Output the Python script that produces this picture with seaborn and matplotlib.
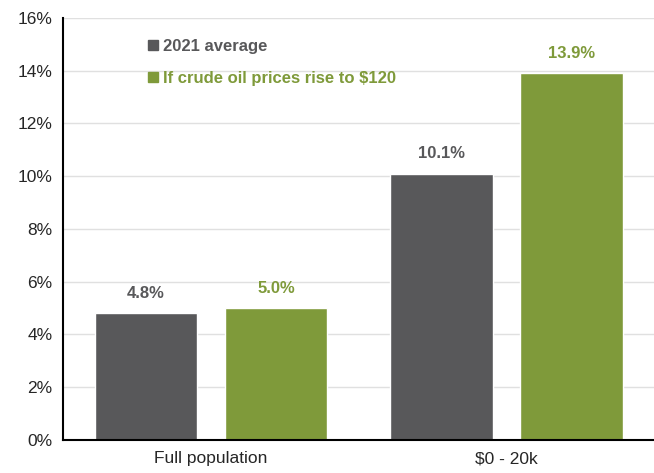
import pandas as pd
import matplotlib.pyplot as plt
import seaborn as sns
from matplotlib.lines import Line2D

categories = ['Full population', '$0 - 20k']
series = ['2021 average', 'If crude oil prices rise to $120']
avg_2021 = [4.8, 10.1]
oil_120 = [5.0, 13.9]
yticks = [0, 2, 4, 6, 8, 10, 12, 14, 16]

# colours
Colors = ['#58585a', '#7f9a3a']

df = pd.DataFrame({
    'group': categories * 2,
    'series': [series[0]] * 2 + [series[1]] * 2,
    'value': avg_2021 + oil_120,
})

sns.set_style('white')
plt.rcParams['font.family'] = ['Liberation Sans', 'DejaVu Sans']

fig = plt.figure(figsize=(6.54, 4.73), dpi=100)
ax = fig.add_axes([0.097, 0.070, 0.903, 0.892])

sns.barplot(data=df, x='group', y='value', hue='series', palette=Colors,
            width=0.88, gap=0.21, ax=ax, legend=False, saturation=1)

# value labels
for cont, col in zip(ax.containers, Colors):
    ax.bar_label(cont, labels=[f'{v:.1f}%' for v in cont.datavalues],
                 padding=9, color=col, fontsize=12, fontweight='bold')

ax.set_ylim(0, 16)
ax.set_yticks(yticks)
ax.set_yticklabels([f'{t}%' for t in yticks], fontsize=12.5)
ax.set_xlim(-0.5, 1.5)
ax.set_xticks([0, 1])
ax.set_xticklabels(categories, fontsize=12.5)
ax.tick_params(axis='x', length=0, pad=8)
ax.tick_params(axis='y', length=0, pad=8)
ax.set_xticks([0.5], minor=True)
ax.tick_params(axis='x', which='minor', length=5, width=1.2, color='black', direction='out')
ax.set_xlabel('')
ax.set_ylabel('')

ax.yaxis.grid(True, color='#e0e0e0', linewidth=1)
ax.set_axisbelow(True)
for s in ['top', 'right']:
    ax.spines[s].set_visible(False)
for s in ['left', 'bottom']:
    ax.spines[s].set_color('black')
    ax.spines[s].set_linewidth(1.5)

handles = [Line2D([], [], marker='s', linestyle='', color=c, markersize=6.5) for c in Colors]
leg = ax.legend(handles, series, loc='upper left', bbox_to_anchor=(0.115, 0.985),
                frameon=False, handletextpad=0.2, labelspacing=1.0,
                handlelength=0.8, labelcolor=Colors,
                prop={'weight': 'bold', 'size': 12})

fig.savefig('out.png', dpi=100)
